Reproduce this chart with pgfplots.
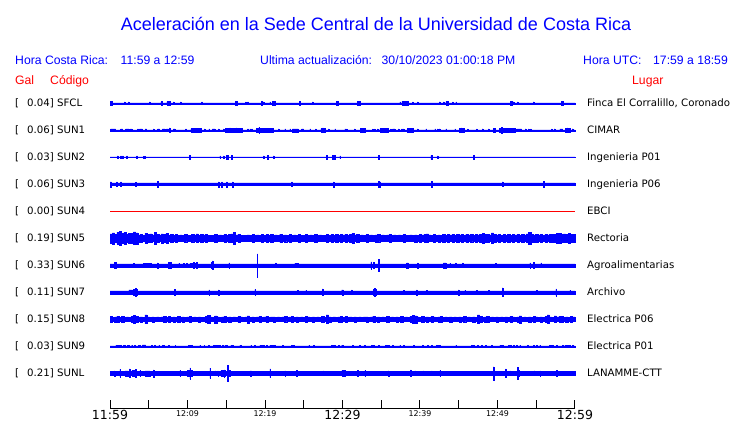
\documentclass[border=0pt]{standalone}
\usepackage{fontspec}
\setmainfont{Liberation Sans}
\newfontfamily\dv{DejaVu Sans}
\usepackage{pgfplots}
\pgfplotsset{compat=1.18}
\usepackage{pgfplotstable}

% half-widths (px) of the trace envelopes, x in minutes after 11:59
\pgfplotstableread[row sep=\\]{x a\\ 0 0.45\\ 0.09 1.6\\ 0.34 0.45\\ 1.85 1.3\\ 1.93 0.45\\ 2.37 1.3\\ 2.45 0.45\\ 5.07 1.3\\ 5.15 0.45\\ 6.58 1.6\\ 6.75 0.45\\ 7.35 1.6\\ 7.74 0.45\\ 8.17 1.3\\ 8.25 0.45\\ 9.07 1.3\\ 9.15 0.45\\ 11.83 1.3\\ 11.91 0.45\\ 16.2 1.6\\ 16.45 0.45\\ 17.5 1.3\\ 17.58 0.45\\ 17.76 1.3\\ 17.84 0.45\\ 19.57 2.2\\ 19.65 0.45\\ 19.78 1.3\\ 19.86 0.45\\ 20.64 1.3\\ 20.72 0.45\\ 20.98 1.6\\ 21.29 0.45\\ 24.42 1.6\\ 24.6 0.45\\ 26.1 1.3\\ 26.18 0.45\\ 29.24 1.6\\ 29.45 0.45\\ 31.9 1.6\\ 32.25 0.45\\ 37.41 1.3\\ 37.49 0.45\\ 37.67 1.8\\ 38.49 0.45\\ 39.04 1.3\\ 39.12 0.45\\ 39.65 1.3\\ 39.73 0.45\\ 42.48 1.3\\ 42.56 0.45\\ 43.0 1.3\\ 43.08 0.45\\ 43.34 1.6\\ 43.65 0.45\\ 44.2 1.3\\ 44.28 0.45\\ 44.63 1.3\\ 44.71 0.45\\ 51.69 1.6\\ 51.85 0.45\\ 52.03 1.3\\ 52.11 0.45\\ 52.55 1.3\\ 52.63 0.45\\ 54.61 1.3\\ 54.69 0.45\\ 58.27 1.6\\ 58.45 0.45\\ 60 0.45\\}\tSFCL

\pgfplotstableread[row sep=\\]{x a\\ 0 0.45\\ 0.09 1.4\\ 0.73 0.45\\ 1.38 1.4\\ 1.63 0.45\\ 2.02 1.4\\ 2.45 0.45\\ 2.62 1.4\\ 2.8 0.45\\ 3.57 1.3\\ 3.65 0.45\\ 3.83 1.4\\ 4.17 0.45\\ 4.52 1.4\\ 4.73 0.45\\ 5.59 1.3\\ 5.67 0.45\\ 6.15 1.4\\ 6.41 0.45\\ 6.75 1.4\\ 7.1 0.45\\ 7.27 1.4\\ 7.53 0.45\\ 7.65 2.4\\ 7.73 0.45\\ 8.17 1.4\\ 8.39 0.45\\ 9.76 1.3\\ 9.84 0.45\\ 10.45 1.6\\ 11.83 0.45\\ 12.17 1.3\\ 12.25 0.45\\ 12.77 1.3\\ 12.85 0.45\\ 13.2 1.4\\ 13.55 0.45\\ 13.98 1.3\\ 14.06 0.45\\ 14.62 1.3\\ 14.7 0.45\\ 14.92 1.6\\ 15.44 2.4\\ 15.52 1.6\\ 16.3 2.4\\ 16.38 1.6\\ 17.07 0.45\\ 17.76 1.3\\ 17.84 0.45\\ 18.06 1.3\\ 18.14 0.45\\ 18.28 1.3\\ 18.36 0.45\\ 18.92 1.6\\ 19.2 2.8\\ 19.28 1.6\\ 21.07 0.45\\ 21.72 1.3\\ 21.8 0.45\\ 22.58 1.3\\ 22.66 0.45\\ 23.22 1.3\\ 23.3 0.45\\ 23.52 1.5\\ 24.3 0.45\\ 24.72 1.4\\ 24.98 0.45\\ 25.8 1.3\\ 25.88 0.45\\ 26.53 1.3\\ 26.61 0.45\\ 27.22 1.6\\ 27.45 2.4\\ 27.53 1.6\\ 27.74 0.45\\ 28.17 1.3\\ 28.25 0.45\\ 29.03 1.3\\ 29.11 0.45\\ 30.32 1.3\\ 30.4 0.45\\ 30.53 1.3\\ 30.61 0.45\\ 31.52 1.3\\ 31.6 0.45\\ 32.34 1.6\\ 32.94 0.45\\ 33.88 1.3\\ 33.96 0.45\\ 34.14 1.3\\ 34.22 0.45\\ 34.49 1.3\\ 34.57 0.45\\ 34.83 1.6\\ 35.9 0.45\\ 36.21 1.3\\ 36.29 0.45\\ 36.46 1.4\\ 36.77 0.45\\ 37.2 1.3\\ 37.28 0.45\\ 37.63 1.3\\ 37.71 0.45\\ 37.84 1.3\\ 37.92 0.45\\ 38.36 1.6\\ 39.13 0.45\\ 39.65 1.3\\ 39.73 0.45\\ 40.76 1.3\\ 40.84 0.45\\ 41.93 1.3\\ 42.01 0.45\\ 42.23 1.3\\ 42.31 0.45\\ 42.48 1.3\\ 42.56 0.45\\ 43.34 1.3\\ 43.42 0.45\\ 44.5 1.3\\ 44.58 0.45\\ 45.06 1.6\\ 45.3 2.4\\ 45.38 1.6\\ 45.71 0.45\\ 46.14 1.3\\ 46.22 0.45\\ 47.3 1.3\\ 47.38 0.45\\ 48.03 1.3\\ 48.11 0.45\\ 48.81 1.3\\ 48.89 0.45\\ 49.45 2.2\\ 49.71 0.45\\ 50.22 1.6\\ 50.53 2.8\\ 50.61 1.6\\ 52.25 0.45\\ 52.46 1.4\\ 53.11 0.45\\ 53.58 1.3\\ 53.66 0.45\\ 53.97 1.3\\ 54.05 0.45\\ 54.27 1.3\\ 54.35 0.45\\ 56.98 1.3\\ 57.06 0.45\\ 57.32 1.3\\ 57.4 0.45\\ 58.05 1.4\\ 58.4 0.45\\ 58.74 1.6\\ 59.0 2.4\\ 59.08 1.6\\ 59.34 0.45\\ 59.64 1.3\\ 59.72 0.45\\ 60 0.45\\}\tSUNa

\pgfplotstableread[row sep=\\]{x a\\ 0 0.4\\ 0.95 1.4\\ 1.03 0.4\\ 1.38 1.4\\ 1.46 0.4\\ 1.63 1.4\\ 1.71 0.4\\ 2.15 1.4\\ 2.23 0.4\\ 3.44 1.4\\ 3.52 0.4\\ 4.3 1.2\\ 4.52 0.4\\ 10.23 2.0\\ 10.41 0.4\\ 14.19 1.4\\ 14.27 0.4\\ 14.62 1.4\\ 14.7 0.4\\ 15.05 2.0\\ 15.27 0.4\\ 15.7 2.0\\ 15.82 0.4\\ 19.78 1.4\\ 19.86 0.4\\ 20.34 2.0\\ 20.42 0.4\\ 21.07 1.4\\ 21.15 0.4\\ 27.95 2.0\\ 28.03 0.4\\ 28.72 2.0\\ 29.03 0.4\\ 29.67 1.4\\ 29.75 0.4\\ 34.62 2.0\\ 34.7 0.4\\ 41.41 2.0\\ 41.58 0.4\\ 42.23 1.3\\ 42.31 0.4\\ 46.87 2.0\\ 46.95 0.4\\ 60 0.4\\}\tSUNb

\pgfplotstableread[row sep=\\]{x a\\ 0 2.5\\ 0.17 1.3\\ 0.86 2.3\\ 0.94 1.3\\ 1.38 2.3\\ 1.46 1.3\\ 3.31 2.0\\ 3.39 1.3\\ 6.11 3.0\\ 6.19 1.3\\ 13.98 2.5\\ 14.06 1.3\\ 14.41 2.5\\ 14.49 1.3\\ 15.05 2.5\\ 15.13 1.3\\ 15.78 2.5\\ 15.86 1.3\\ 23.44 2.3\\ 23.52 1.3\\ 28.81 2.5\\ 28.89 1.3\\ 34.62 3.0\\ 34.7 1.3\\ 34.83 2.5\\ 34.91 1.3\\ 41.45 3.0\\ 41.53 1.3\\ 50.61 2.3\\ 50.69 1.3\\ 55.9 3.0\\ 55.98 1.3\\ 60 1.3\\}\tSUNc

\pgfplotstableread[row sep=\\]{x a\\ 0 4.5\\ 0.3 5.5\\ 0.6 4.0\\ 0.9 6.0\\ 1.2 6.8\\ 1.5 5.0\\ 1.8 5.8\\ 2.1 3.8\\ 2.4 4.6\\ 2.7 5.2\\
3.0 6.3\\ 3.3 5.5\\ 3.6 3.5\\ 3.9 4.2\\ 4.2 3.2\\ 4.5 4.8\\ 4.8 3.6\\ 5.1 4.4\\ 5.4 3.3\\ 5.7 6.0\\
6.0 4.0\\ 6.3 3.4\\ 6.6 4.5\\ 6.9 3.6\\ 7.2 5.0\\ 7.5 3.2\\ 7.8 4.2\\ 8.1 3.0\\ 8.4 3.8\\ 8.7 2.8\\
9.0 3.3\\ 9.3 2.6\\ 9.6 3.8\\ 9.9 3.0\\ 10.2 2.8\\ 10.5 4.0\\ 10.8 3.3\\ 11.1 4.4\\ 11.4 3.1\\ 11.7 3.8\\
12.0 3.4\\ 12.3 4.2\\ 12.6 2.8\\ 12.9 3.2\\ 13.2 2.6\\ 13.5 3.7\\ 13.8 2.9\\ 14.1 3.3\\ 14.4 2.7\\ 14.7 3.8\\
15.0 3.1\\ 15.3 3.6\\ 15.6 4.3\\ 15.9 5.8\\ 16.2 3.4\\ 16.5 3.9\\ 16.8 2.8\\ 17.1 3.2\\ 17.4 2.7\\ 17.7 3.4\\
18.0 2.9\\ 18.3 3.7\\ 18.6 2.8\\ 18.9 3.4\\ 19.2 2.7\\ 19.5 4.0\\ 19.8 3.0\\ 20.1 3.6\\ 20.4 2.9\\ 20.7 3.8\\
21.0 3.1\\ 21.3 3.4\\ 21.6 2.7\\ 21.9 4.1\\ 22.2 3.2\\ 22.5 3.5\\ 22.8 2.8\\ 23.1 3.9\\ 23.4 3.0\\ 23.7 3.4\\
24.0 2.8\\ 24.3 3.8\\ 24.6 3.2\\ 24.9 2.9\\ 25.2 4.0\\ 25.5 3.1\\ 25.8 3.3\\ 26.1 2.9\\ 26.4 3.6\\ 26.7 3.0\\
27.0 3.4\\ 27.3 3.1\\ 27.6 3.2\\ 27.9 3.7\\ 28.2 3.0\\ 28.5 3.9\\ 28.8 3.2\\ 29.1 3.6\\ 29.4 3.1\\ 29.7 3.8\\
30.0 3.3\\ 30.3 3.8\\ 30.6 3.0\\ 30.9 4.1\\ 31.2 5.0\\ 31.5 3.4\\ 31.8 3.7\\ 32.1 2.8\\ 32.4 3.4\\ 32.7 3.0\\
33.0 3.6\\ 33.3 2.9\\ 33.6 3.3\\ 33.9 2.7\\ 34.2 3.5\\ 34.5 4.0\\ 34.8 3.2\\ 35.1 3.4\\ 35.4 2.9\\ 35.7 3.3\\
36.0 3.7\\ 36.3 3.0\\ 36.6 3.4\\ 36.9 2.8\\ 37.2 3.3\\ 37.5 3.1\\ 37.8 3.7\\ 38.1 3.2\\ 38.4 2.8\\ 38.7 3.4\\
39.0 3.1\\ 39.3 3.5\\ 39.6 3.0\\ 39.9 3.8\\ 40.2 3.3\\ 40.5 3.6\\ 40.8 4.4\\ 41.1 3.4\\ 41.4 3.2\\ 41.7 3.7\\
42.0 3.1\\ 42.3 3.5\\ 42.6 2.9\\ 42.9 3.6\\ 43.2 3.2\\ 43.5 3.8\\ 43.8 3.3\\ 44.1 3.7\\ 44.4 3.1\\ 44.7 3.9\\
45.0 3.4\\ 45.3 3.7\\ 45.6 3.2\\ 45.9 4.0\\ 46.2 3.3\\ 46.5 3.6\\ 46.8 3.1\\ 47.1 3.8\\ 47.4 3.3\\ 47.7 4.0\\
48.0 4.6\\ 48.3 3.7\\ 48.6 4.1\\ 48.9 3.4\\ 49.2 5.4\\ 49.5 3.8\\ 49.8 3.3\\ 50.1 4.2\\ 50.4 3.1\\ 50.7 3.6\\
51.0 3.2\\ 51.3 3.8\\ 51.6 3.1\\ 51.9 4.0\\ 52.2 3.3\\ 52.5 3.7\\ 52.8 3.0\\ 53.1 3.6\\ 53.4 3.4\\ 53.7 4.3\\
54.0 5.8\\ 54.3 3.8\\ 54.6 3.5\\ 54.9 4.0\\ 55.2 3.3\\ 55.5 3.7\\ 55.8 3.1\\ 56.1 4.1\\ 56.4 3.4\\ 56.7 3.8\\
57.0 3.6\\ 57.3 4.2\\ 57.6 4.6\\ 57.9 5.0\\ 58.2 3.8\\ 58.5 4.4\\ 58.8 4.0\\ 59.1 4.6\\ 59.4 4.2\\ 59.7 3.8\\ 60 3.8\\}\tSUNe

\pgfplotstableread[row sep=\\]{x a\\ 0 1.45\\ 0.56 3.0\\ 0.75 1.45\\ 3.0 2.0\\ 3.08 1.45\\ 4.3 1.9\\ 5.38 1.45\\ 6.1 2.5\\ 6.18 1.45\\ 7.53 3.0\\ 7.96 1.45\\ 8.9 2.2\\ 8.98 1.45\\ 9.46 2.2\\ 9.54 1.45\\ 9.89 2.0\\ 9.97 1.45\\ 10.32 2.0\\ 10.72 3.0\\ 10.8 2.0\\ 11.15 3.0\\ 11.23 1.45\\ 13.1 3.0\\ 13.2 4.3\\ 13.28 3.0\\ 13.38 1.45\\ 15.35 2.5\\ 15.43 1.45\\ 18.97 11.5\\ 19.05 1.45\\ 21.37 2.3\\ 21.45 1.45\\ 23.87 2.2\\ 24.3 1.45\\ 33.67 3.5\\ 33.75 1.45\\ 33.97 3.0\\ 34.05 1.45\\ 34.6 5.7\\ 34.68 1.45\\ 38.27 2.5\\ 38.49 1.45\\ 39.69 2.5\\ 39.77 1.45\\ 43.0 2.5\\ 43.34 1.45\\ 43.86 2.0\\ 43.94 1.45\\ 44.59 2.3\\ 44.67 1.45\\ 45.49 2.3\\ 45.57 1.45\\ 49.71 2.0\\ 49.79 1.45\\ 54.18 2.5\\ 54.26 1.45\\ 54.61 3.0\\ 54.69 1.45\\ 55.6 2.3\\ 55.68 1.45\\ 60 1.45\\}\tSUNf

\pgfplotstableread[row sep=\\]{x a\\ 0 1.45\\ 2.45 2.3\\ 2.9 1.45\\ 3.0 3.0\\ 3.25 4.2\\ 3.33 3.0\\ 3.5 1.45\\ 8.3 3.0\\ 8.47 1.45\\ 12.77 2.5\\ 12.85 1.45\\ 13.98 2.5\\ 14.06 1.45\\ 18.7 2.8\\ 18.78 1.45\\ 24.21 2.0\\ 24.29 1.45\\ 25.28 2.0\\ 25.36 1.45\\ 27.39 3.3\\ 27.47 1.45\\ 29.9 2.5\\ 30.1 1.45\\ 31.17 2.3\\ 31.25 1.45\\ 33.97 3.0\\ 34.15 4.2\\ 34.23 3.0\\ 34.4 1.45\\ 37.84 2.0\\ 37.92 1.45\\ 39.56 2.5\\ 39.64 1.45\\ 40.85 2.0\\ 40.93 1.45\\ 44.94 2.5\\ 45.02 1.45\\ 45.8 2.0\\ 45.88 1.45\\ 47.3 2.0\\ 47.38 1.45\\ 48.81 2.0\\ 48.89 1.45\\ 50.61 4.3\\ 50.69 1.45\\ 55.04 2.0\\ 55.12 1.45\\ 57.53 3.5\\ 57.61 1.45\\ 59.34 2.0\\ 59.42 1.45\\ 60 1.45\\}\tSUNg

\pgfplotstableread[row sep=\\]{x a\\ 0 3.0\\ 0.3 2.1\\ 0.6 2.5\\ 0.9 3.1\\ 1.2 2.2\\ 1.5 2.6\\ 1.8 2.0\\ 2.1 2.4\\ 2.4 2.1\\ 2.7 2.6\\
3.0 4.0\\ 3.3 2.8\\ 3.6 2.2\\ 3.9 2.5\\ 4.2 2.0\\ 4.5 4.4\\ 4.8 2.3\\ 5.1 2.0\\ 5.4 2.5\\ 5.7 2.1\\
6.0 2.4\\ 6.3 2.0\\ 6.6 2.3\\ 6.9 2.6\\ 7.2 2.0\\ 7.5 3.0\\ 7.8 2.2\\ 8.1 2.5\\ 8.4 2.0\\ 8.7 3.0\\
9.0 2.2\\ 9.3 2.5\\ 9.6 1.9\\ 9.9 2.4\\ 10.2 3.0\\ 10.5 2.1\\ 10.8 2.4\\ 11.1 2.0\\ 11.4 2.5\\ 11.7 2.2\\
12.0 2.0\\ 12.3 2.6\\ 12.6 4.0\\ 12.9 2.3\\ 13.2 2.1\\ 13.5 3.5\\ 13.8 2.4\\ 14.1 2.0\\ 14.4 2.5\\ 14.7 3.0\\
15.0 2.2\\ 15.3 2.5\\ 15.6 2.0\\ 15.9 2.4\\ 16.2 2.1\\ 16.5 3.0\\ 16.8 2.3\\ 17.1 2.0\\ 17.4 2.4\\ 17.7 3.5\\
18.0 2.2\\ 18.3 2.5\\ 18.6 2.0\\ 18.9 2.3\\ 19.2 2.6\\ 19.5 2.1\\ 19.8 2.4\\ 20.1 3.0\\ 20.4 2.0\\ 20.7 2.3\\
21.0 2.5\\ 21.3 2.1\\ 21.6 2.4\\ 21.9 2.0\\ 22.2 2.3\\ 22.5 2.6\\ 22.8 2.1\\ 23.1 2.4\\ 23.4 3.0\\ 23.7 2.2\\
24.0 2.5\\ 24.3 2.0\\ 24.6 2.3\\ 24.9 2.1\\ 25.2 3.0\\ 25.5 2.4\\ 25.8 2.0\\ 26.1 2.5\\ 26.4 2.2\\ 26.7 2.4\\
27.0 2.0\\ 27.3 2.6\\ 27.6 2.2\\ 27.9 4.4\\ 28.2 2.5\\ 28.5 2.1\\ 28.8 2.4\\ 29.1 2.0\\ 29.4 2.5\\ 29.7 3.0\\
30.0 2.2\\ 30.3 3.0\\ 30.6 2.1\\ 30.9 2.4\\ 31.2 2.0\\ 31.5 2.5\\ 31.8 2.2\\ 32.1 2.4\\ 32.4 2.0\\ 32.7 2.3\\
33.0 2.5\\ 33.3 2.1\\ 33.6 2.4\\ 33.9 3.0\\ 34.2 2.2\\ 34.5 2.5\\ 34.8 2.0\\ 35.1 2.4\\ 35.4 2.1\\ 35.7 2.6\\
36.0 2.2\\ 36.3 2.4\\ 36.6 2.0\\ 36.9 2.5\\ 37.2 2.2\\ 37.5 2.6\\ 37.8 2.1\\ 38.1 2.4\\ 38.4 2.0\\ 38.7 2.8\\
39.0 4.0\\ 39.3 3.5\\ 39.6 2.4\\ 39.9 2.1\\ 40.2 3.0\\ 40.5 2.2\\ 40.8 2.5\\ 41.1 2.0\\ 41.4 3.0\\ 41.7 2.3\\
42.0 2.1\\ 42.3 2.5\\ 42.6 3.0\\ 42.9 2.2\\ 43.2 2.4\\ 43.5 2.0\\ 43.8 2.5\\ 44.1 2.2\\ 44.4 2.4\\ 44.7 2.1\\
45.0 2.5\\ 45.3 2.2\\ 45.6 2.6\\ 45.9 2.0\\ 46.2 2.4\\ 46.5 2.2\\ 46.8 2.5\\ 47.1 2.1\\ 47.4 4.4\\ 47.7 2.6\\
48.0 2.2\\ 48.3 2.5\\ 48.6 3.2\\ 48.9 2.1\\ 49.2 2.4\\ 49.5 2.0\\ 49.8 2.5\\ 50.1 2.2\\ 50.4 2.4\\ 50.7 2.1\\
51.0 2.5\\ 51.3 2.2\\ 51.6 3.0\\ 51.9 2.3\\ 52.2 2.0\\ 52.5 2.5\\ 52.8 3.5\\ 53.1 2.2\\ 53.4 2.4\\ 53.7 2.1\\
54.0 2.5\\ 54.3 2.2\\ 54.6 3.0\\ 54.9 2.4\\ 55.2 2.1\\ 55.5 2.5\\ 55.8 2.2\\ 56.1 2.6\\ 56.4 4.4\\ 56.7 2.4\\
57.0 2.1\\ 57.3 3.4\\ 57.6 2.3\\ 57.9 2.6\\ 58.2 3.0\\ 58.5 2.2\\ 58.8 2.5\\ 59.1 2.1\\ 59.4 3.0\\ 59.7 2.4\\ 60 2.4\\}\tSUNh

\pgfplotstableread[row sep=\\]{x a\\ 0 0.45\\ 0.77 1.2\\ 1.5 0.45\\ 1.72 1.2\\ 2.02 0.45\\ 2.28 1.2\\ 2.45 0.45\\ 2.8 1.2\\ 2.88 0.45\\ 3.14 1.2\\ 3.31 0.45\\ 3.66 1.2\\ 3.87 0.45\\ 4.17 1.4\\ 4.6 0.45\\ 5.38 1.2\\ 5.46 0.45\\ 5.72 1.2\\ 5.8 0.45\\ 6.32 1.2\\ 6.4 0.45\\ 6.75 1.2\\ 7.01 0.45\\ 7.53 1.2\\ 7.61 0.45\\ 8.39 1.2\\ 8.47 0.45\\ 10.1 1.2\\ 10.62 0.45\\ 11.61 1.2\\ 11.69 0.45\\ 12.13 1.2\\ 12.21 0.45\\ 12.69 1.2\\ 12.77 0.45\\ 13.33 1.2\\ 14.19 0.45\\ 14.49 1.2\\ 14.57 0.45\\ 14.83 1.2\\ 15.18 0.45\\ 15.61 1.2\\ 15.91 0.45\\ 16.77 1.2\\ 16.99 0.45\\ 18.19 1.2\\ 18.27 0.45\\ 18.62 1.2\\ 18.7 0.45\\ 19.35 1.2\\ 19.91 0.45\\ 20.21 1.2\\ 20.29 0.45\\ 20.64 1.2\\ 21.29 0.45\\ 22.23 1.2\\ 22.31 0.45\\ 23.44 1.2\\ 23.52 0.45\\ 23.65 1.2\\ 23.73 0.45\\ 25.67 1.2\\ 25.75 0.45\\ 26.23 1.2\\ 26.31 0.45\\ 28.6 1.2\\ 29.03 0.45\\ 29.46 1.2\\ 29.54 0.45\\ 29.9 1.2\\ 30.1 0.45\\ 31.3 1.2\\ 31.38 0.45\\ 32.16 1.2\\ 32.24 0.45\\ 32.81 1.2\\ 32.89 0.45\\ 33.76 1.2\\ 34.05 0.45\\ 34.62 1.2\\ 34.7 0.45\\ 35.56 1.2\\ 35.99 0.45\\ 36.46 1.2\\ 36.54 0.45\\ 37.41 1.2\\ 37.49 0.45\\ 37.84 1.2\\ 37.92 0.45\\ 39.13 1.2\\ 39.21 0.45\\ 40.29 1.2\\ 40.37 0.45\\ 40.94 1.2\\ 41.02 0.45\\ 41.5 1.2\\ 41.58 0.45\\ 42.14 1.2\\ 42.66 0.45\\ 44.63 1.2\\ 44.71 0.45\\ 46.66 1.2\\ 46.96 0.45\\ 47.43 1.2\\ 47.51 0.45\\ 47.95 1.2\\ 48.03 0.45\\ 48.46 1.2\\ 48.54 0.45\\ 49.24 1.2\\ 49.32 0.45\\ 50.31 1.2\\ 50.74 0.45\\ 51.39 1.2\\ 51.47 0.45\\ 51.69 1.2\\ 51.77 0.45\\ 52.03 1.2\\ 52.11 0.45\\ 52.46 1.2\\ 52.54 0.45\\ 52.89 1.2\\ 52.97 0.45\\ 53.83 1.2\\ 53.91 0.45\\ 54.61 1.2\\ 54.69 0.45\\ 55.04 1.2\\ 55.12 0.45\\ 55.47 1.2\\ 55.55 0.45\\ 56.67 1.2\\ 57.19 0.45\\ 57.62 1.2\\ 57.7 0.45\\ 58.4 1.2\\ 58.48 0.45\\ 58.7 1.2\\ 59.34 0.45\\ 59.64 1.2\\ 59.72 0.45\\ 60 0.45\\}\tSUNi

\pgfplotstableread[row sep=\\]{x a\\ 0 1.6\\ 0.56 2.5\\ 0.64 1.6\\ 1.29 3.8\\ 1.37 1.6\\ 1.94 2.5\\ 2.37 1.6\\ 2.49 4.3\\ 2.57 1.6\\ 2.8 2.7\\ 3.27 4.0\\ 3.35 2.7\\ 3.44 1.6\\ 3.87 3.0\\ 3.95 1.6\\ 4.52 2.5\\ 5.16 1.6\\ 5.59 3.5\\ 5.67 1.6\\ 6.24 2.2\\ 6.32 1.6\\ 9.03 3.0\\ 9.11 1.6\\ 10.02 3.0\\ 10.3 5.5\\ 10.38 3.0\\ 10.62 1.6\\ 11.4 2.0\\ 11.48 1.6\\ 12.9 5.2\\ 12.98 1.6\\ 13.55 2.3\\ 13.63 1.6\\ 13.9 2.5\\ 13.98 1.6\\ 14.32 3.0\\ 14.71 3.5\\ 14.79 3.0\\ 14.92 1.6\\ 15.12 7.7\\ 15.2 3.0\\ 15.5 1.6\\ 16.99 2.0\\ 17.07 1.6\\ 18.06 2.5\\ 18.28 1.6\\ 19.22 2.0\\ 19.3 1.6\\ 20.64 4.3\\ 20.72 1.6\\ 22.58 2.5\\ 22.66 1.6\\ 22.92 2.0\\ 23.0 1.6\\ 24.08 2.7\\ 24.16 1.6\\ 24.72 2.0\\ 24.8 1.6\\ 25.93 2.0\\ 26.01 1.6\\ 27.52 2.3\\ 27.6 1.6\\ 28.6 2.0\\ 28.68 1.6\\ 29.9 2.7\\ 30.32 1.6\\ 31.91 3.0\\ 31.99 1.6\\ 32.9 3.0\\ 32.98 1.6\\ 35.9 2.5\\ 35.98 1.6\\ 38.79 3.3\\ 38.87 1.6\\ 39.35 2.3\\ 39.43 1.6\\ 40.42 2.3\\ 40.5 1.6\\ 41.5 2.3\\ 41.58 1.6\\ 42.57 3.0\\ 42.65 1.6\\ 46.44 2.0\\ 46.52 1.6\\ 47.95 2.0\\ 48.03 1.6\\ 49.45 6.5\\ 49.53 1.6\\ 51.04 4.3\\ 51.12 1.6\\ 51.6 2.3\\ 51.68 1.6\\ 52.55 6.0\\ 52.63 3.0\\ 52.75 1.6\\ 54.74 2.3\\ 54.82 1.6\\ 55.47 2.5\\ 55.55 1.6\\ 57.62 3.0\\ 57.7 1.6\\ 60 1.6\\}\tSUNL

% one hidden axis per trace: y = 0 is the trace's centre line (row #2 px from the top);
% #4 is the width of the trace's steady band
\newcommand{\trace}[4]{%
\begin{axis}[at={(110pt,14pt)}, anchor=south west, scale only axis,
  width=465pt, height=409pt, xmin=0, xmax=60, ymin=#3, ymax=#2,
  hide axis, clip=false]
\addplot[blue, line width=#4] coordinates {(0,0) (60,0)};
\addplot[const plot, draw=blue, fill=blue, line width=0.4pt] table[x=x, y=a] {#1} \closedcycle;
\addplot[const plot, draw=blue, fill=blue, line width=0.4pt] table[x=x, y expr={-\thisrow{a}}] {#1} \closedcycle;
\end{axis}}
\newcommand{\bl}[1]{{\dv\fontsize{12.5}{13}\selectfont #1}}
\newcommand{\sm}[1]{{\dv\fontsize{7.9}{9}\selectfont #1}}

\begin{document}
\begin{tikzpicture}[x=1pt,y=1pt]
\path (0,0) rectangle (740,423);
\begin{axis}[at={(110pt,14pt)}, anchor=south west, scale only axis,
  width=465pt, height=409pt, xmin=0, xmax=60, ymin=-409, ymax=0,
  axis x line*=bottom, hide y axis,
  x axis line style={-, black, line width=1pt},
  xtick={0,5,...,60},
  xticklabels={\bl{11:59},,\sm{12:09},,\sm{12:19},,\bl{12:29},,\sm{12:39},,\sm{12:49},,\bl{12:59}},
  tick align=inside, major tick length=8.5pt,
  xtick style={black, line width=1pt},
  xticklabel style={anchor=north, inner sep=0pt, yshift=-1.5pt},
  clip=false]
\addplot[red, line width=1pt] coordinates {(0,-211.3) (60,-211.3)};
\end{axis}
\trace{\tSFCL}{103.3}{-305.7}{1.2pt}
\trace{\tSUNa}{130.3}{-278.7}{1.2pt}
\trace{\tSUNb}{157.3}{-251.7}{1.1pt}
\trace{\tSUNc}{184.3}{-224.7}{3.0pt}
\trace{\tSUNe}{238.3}{-170.7}{6.0pt}
\trace{\tSUNf}{265.3}{-143.7}{3.3pt}
\trace{\tSUNg}{292.3}{-116.7}{3.3pt}
\trace{\tSUNh}{319.3}{-89.7}{4.2pt}
\trace{\tSUNi}{346.3}{-62.7}{1.2pt}
\trace{\tSUNL}{373.3}{-35.7}{3.6pt}

% titles and headers
\node[blue, anchor=base, inner sep=0pt, font=\fontsize{18}{20}\selectfont] at (376,392.6) {Aceleración en la Sede Central de la Universidad de Costa Rica};
\begin{scope}[every node/.style={anchor=base west, inner sep=0pt, font=\fontsize{12.2}{14}\selectfont}]
\node[blue] at (15,358) {Hora Costa Rica:};
\node[blue] at (120.5,358) {11:59 a 12:59};
\node[blue] at (260,358) {Ultima actualización:};
\node[blue] at (381.5,358) {30/10/2023 01:00:18 PM};
\node[blue] at (583,358) {Hora UTC:};
\node[blue] at (653,358) {17:59 a 18:59};
\node[red] at (15,338) {Gal};
\node[red] at (50,338) {Código};
\node[red] at (632,338) {Lugar};
\end{scope}

\begin{scope}[every node/.style={anchor=base west, inner sep=0pt, font=\dv\fontsize{10.2}{12}\selectfont}]
\foreach \v/\c/\p [count=\k from 0] in {0.04/SFCL/{Finca El Corralillo, Coronado}, 0.06/SUN1/CIMAR, 0.03/SUN2/Ingenieria P01, 0.06/SUN3/Ingenieria P06, 0.00/SUN4/EBCI, 0.19/SUN5/Rectoria, 0.33/SUN6/Agroalimentarias, 0.11/SUN7/Archivo, 0.15/SUN8/Electrica P06, 0.03/SUN9/Electrica P01, 0.21/SUNL/LANAMME-CTT} {
  \node at (15, 316-27*\k) {[};
  \node at (27, 316-27*\k) {\v] \c};
  \node at (587, 316-27*\k) {\p};
}
\end{scope}
\end{tikzpicture}
\end{document}
